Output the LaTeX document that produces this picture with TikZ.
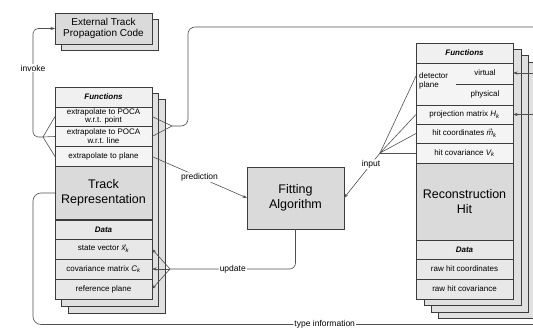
\documentclass[tikz,border=0pt]{standalone}
\usepackage{amsmath}
\usepackage{fontspec}
\setmainfont{Liberation Sans}
\usetikzlibrary{arrows.meta}
\definecolor{bordc}{HTML}{3C3C3C}
\definecolor{linec}{HTML}{505050}
\definecolor{hdrc}{HTML}{F0F0F0}
\definecolor{fnc}{HTML}{F4F4F4}
\definecolor{bigc}{HTML}{DADADA}
\definecolor{datc}{HTML}{E8E8E8}
\definecolor{backc}{HTML}{E0E0E0}
\newcommand{\sfv}[1]{$\smash[t]{\vec{\textit{#1}}}_{\textit{k}}$}
\newcommand{\sfm}[1]{$\textit{#1}_{\smash[b]{\textit{k}}}$}
\tikzset{
 cell/.style={draw=bordc, line width=0.7pt, inner sep=0pt, outer sep=0pt, minimum width=97pt, align=center, font=\fontsize{8}{8.8}\selectfont},
 hdr/.style={cell, fill=hdrc, font=\fontsize{8}{9}\selectfont\bfseries\itshape},
 fn/.style={cell, fill=fnc},
 dat/.style={cell, fill=datc},
 big/.style={cell, fill=bigc, font=\fontsize{12.5}{15}\selectfont},
 layer/.style={draw=bordc, line width=0.7pt, fill=backc},
 conn/.style={draw=linec, line width=0.6pt, rounded corners=6pt},
 arr/.style={conn, -{Stealth[length=4.5pt,width=3pt]}},
 lbl/.style={fill=white, inner sep=1pt, font=\fontsize{8.5}{10}\selectfont},
 plain/.style={inner sep=0pt, font=\fontsize{8}{8.8}\selectfont}
}
\begin{document}
\begin{tikzpicture}[x=1pt,y=-1pt]
\useasboundingbox (0,0) rectangle (533,329);
% external propagation code
\draw[layer] (61,19) rectangle (158,50);
\node[cell, fill=bigc, minimum height=31pt, font=\fontsize{10}{11.5}\selectfont] (ext) at (103.5,28.5) {External Track\\Propagation Code};
% left stack
\draw[layer] (68,99) rectangle (165,313);
\draw[layer] (61,93) rectangle (158,306);
\node[hdr, minimum height=20pt] (lfun) at (103.5,97) {Functions};
\node[fn, minimum height=19pt] (lpt) at (103.5,116.5) {extrapolate to POCA\\w.r.t. point};
\node[fn, minimum height=20pt] (lln) at (103.5,136.5) {extrapolate to POCA\\w.r.t. line};
\node[fn, minimum height=20pt] (lpl) at (103.5,156.5) {extrapolate to plane};
\node[big, minimum height=53pt] (trk) at (103.5,193) {Track\\Representation};
\node[hdr, fill=datc, minimum height=19pt] (ldat) at (103.5,229.5) {Data};
\node[dat, minimum height=20pt] (lsv) at (103.5,249) {state vector \sfv{x}};
\node[dat, minimum height=20pt] (lcv) at (103.5,269) {covariance matrix \sfm{C}};
\node[dat, minimum height=20pt] (lrp) at (103.5,289) {reference plane};
% fitting algorithm
\node[big, minimum height=62pt] (fit) at (295.5,198) {Fitting\\Algorithm};
% right stack
\draw[layer] (438,62) rectangle (535,318);
\draw[layer] (431,55) rectangle (528,312);
\draw[layer] (424,49) rectangle (521,305);
\node[hdr, minimum height=20pt] (rfun) at (464.5,53) {Functions};
\node[fn, minimum height=42pt] (rdet) at (464.5,84) {};
\node[plain, align=left, anchor=west] (rdpl) at (419,81) {detector\\plane};
\node[plain] (rvir) at (485,73) {virtual};
\node[plain] (rphy) at (485,94) {physical};
\draw[bordc, line width=0.7pt] ([xshift=-57pt]rdet.east) -- (rdet.east);
\node[fn, minimum height=19pt] (rproj) at (464.5,114.5) {projection matrix \sfm{H}};
\node[fn, minimum height=19pt] (rhc) at (464.5,133.5) {hit coordinates \sfv{m}};
\node[fn, minimum height=20pt] (rhv) at (464.5,153) {hit covariance \sfm{V}};
\node[big, minimum height=77pt] (rrec) at (464.5,201.5) {Reconstruction\\Hit};
\node[hdr, fill=datc, minimum height=19pt] (rdat) at (464.5,249.5) {Data};
\node[dat, minimum height=20pt] (rrc) at (464.5,269) {raw hit coordinates};
\node[dat, minimum height=20pt] (rrv) at (464.5,289) {raw hit covariance};
% junction coordinates and free ends
\coordinate (ijoin) at (43,137);
\coordinate (pjoin) at (172,126);
\coordinate (injoin) at (380,153);
\coordinate (ujoin) at (170,269);
\coordinate (topend) at (536,27);
\coordinate (botend) at (536,324.5);
\coordinate (rin1) at (536,73);
\coordinate (rin2) at (536,114.5);
% invoke
\draw[conn] (lpt.west) -- (ijoin);
\draw[conn] (lln.west) -- (ijoin);
\draw[conn] (lpl.west) -- (ijoin);
\draw[arr, rounded corners=5pt] (ijoin) -- (33,137) |- (ext.west);
\node[lbl] (invl) at (33,68) {invoke};
% to the top
\draw[conn] (lpt.east) -- (pjoin);
\draw[conn] (lln.east) -- (pjoin);
\draw[conn, rounded corners=7pt] (pjoin) -- (188,126) |- (topend);
% prediction
\draw[arr] (lpl.east) -- node[lbl] {prediction} (fit.west);
% input
\draw[conn] (injoin) -- ([yshift=8pt]rdet.west);
\draw[conn] (injoin) -- (rproj.west);
\draw[conn] (injoin) -- (rhc.west);
\draw[conn] (injoin) -- (rhv.west);
\draw[arr] (injoin) -- node[lbl, pos=0.25] {input} (fit.east);
% update
\draw[conn] (fit.south) |- node[lbl, pos=0.75] {update} (ujoin);
\draw[arr] (ujoin) -- (lsv.east);
\draw[arr] (ujoin) -- (lcv.east);
\draw[arr] (ujoin) -- (lrp.east);
% type information
\draw[conn, rounded corners=8pt] (trk.west) -- (33,193) |- node[lbl, pos=0.79, inner ysep=0pt] {type information} (botend);
% arrows from the right
\draw[arr] (rin1) -- (rfun.east |- rvir);
\draw[arr] (rin2) -- (rproj.east);
\end{tikzpicture}
\end{document}
